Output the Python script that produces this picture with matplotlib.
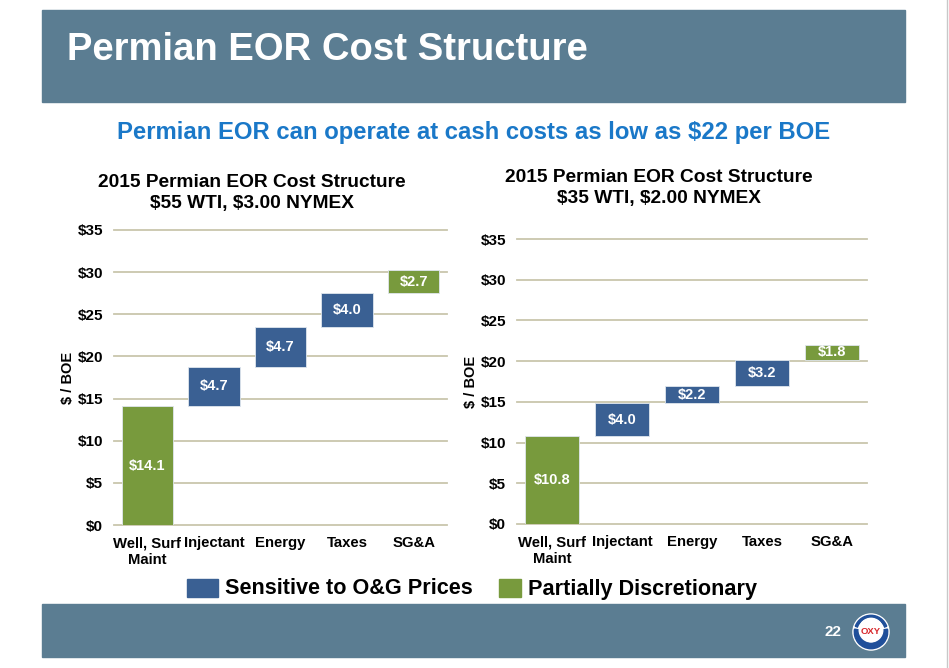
import matplotlib.pyplot as plt
from matplotlib.patches import Rectangle, Circle, Wedge

plt.rcParams['font.family'] = ['Liberation Sans', 'DejaVu Sans']
plt.rcParams['font.weight'] = 'bold'

categories = ['Well, Surf\nMaint', 'Injectant', 'Energy', 'Taxes', 'SG&A']
costs_55 = [14.1, 4.7, 4.7, 4.0, 2.7]
costs_35 = [10.8, 4.0, 2.2, 3.2, 1.8]
groups = ['green', 'blue', 'blue', 'blue', 'green']
yticks = [0, 5, 10, 15, 20, 25, 30, 35]

BLUE = '#3a6093'
GREEN = '#789a3d'
BAND = '#5b7d92'
GRID = '#c9c6ad'
colors = {'blue': BLUE, 'green': GREEN}

W, H = 949, 668
fig = plt.figure(figsize=(W / 100, H / 100), dpi=100)


def px(x0, y0, x1, y1):
    # pixel box (top-left origin) -> figure fraction rect
    return [x0 / W, 1 - y1 / H, (x1 - x0) / W, (y1 - y0) / H]


# header / footer bands
fig.patches.append(Rectangle((42 / W, 1 - 102 / H), 863 / W, 92 / H,
                             transform=fig.transFigure, color=BAND, zorder=0))
fig.patches.append(Rectangle((42 / W, 1 - 657 / H), 863 / W, 53 / H,
                             transform=fig.transFigure, color=BAND, zorder=0))
fig.text(67 / W, 1 - 50 / H, 'Permian EOR Cost Structure', color='white',
         fontsize=27.5, fontweight='bold', va='center', ha='left')
fig.text(474 / W, 1 - 133 / H,
         'Permian EOR can operate at cash costs as low as \\$22 per BOE',
         color='#1a78c8', fontsize=17.2, fontweight='bold', ha='center', va='center')


def waterfall(ax, values, title, tx, ty):
    bottoms = []
    running = 0
    for i, v in enumerate(values):
        b = 0 if i == 0 else running
        bottoms.append(b)
        running = b + v
    x = range(len(values))
    ax.bar(x, values, bottom=bottoms, width=0.77,
           color=[colors[g] for g in groups], edgecolor='#dfe6ee', linewidth=0.6, zorder=3)
    for i, (v, b) in enumerate(zip(values, bottoms)):
        ax.text(i, b + v / 2, f'\\${v:.1f}', color='white', fontsize=10.5,
                fontweight='bold', ha='center', va='center', zorder=4)
    ax.set_xlim(-0.5, len(values) - 0.5)
    ax.set_ylim(0, 35)
    ax.set_yticks(yticks)
    ax.set_yticklabels([f'\\${t}' for t in yticks])
    ax.set_xticks(list(x))
    ax.set_xticklabels(categories, linespacing=1.25)
    ax.tick_params(length=0, labelsize=11)
    ax.tick_params(axis='x', labelsize=10.7, pad=8)
    ax.tick_params(axis='y', pad=8)
    for lbl in ax.get_xticklabels() + ax.get_yticklabels():
        lbl.set_fontweight('bold')
    for s in ax.spines.values():
        s.set_visible(False)
    for t in yticks:
        ax.axhline(t, color=GRID, linewidth=1.3, zorder=1, clip_on=False)
    ax.set_ylabel('\\$ / BOE', fontsize=10.5, fontweight='bold', labelpad=2)
    fig.text(tx / W, 1 - ty / H, title, fontsize=13.8, fontweight='bold',
             linespacing=1.3, ha='center', va='center')


ax1 = fig.add_axes(px(114, 230, 447, 525))
waterfall(ax1, costs_55, '2015 Permian EOR Cost Structure\n\\$55 WTI, \\$3.00 NYMEX', 252, 193)
ax2 = fig.add_axes(px(517, 239, 867, 524))
waterfall(ax2, costs_35, '2015 Permian EOR Cost Structure\n\\$35 WTI, \\$2.00 NYMEX', 659, 188)

# legend
fig.patches.append(Rectangle((187 / W, 1 - 597 / H), 31 / W, 18 / H,
                             transform=fig.transFigure, color=BLUE))
fig.text(225 / W, 1 - 589 / H, 'Sensitive to O&G Prices', fontsize=15.6,
         fontweight='bold', va='center', ha='left')
fig.patches.append(Rectangle((499 / W, 1 - 597 / H), 22 / W, 18 / H,
                             transform=fig.transFigure, color=GREEN))
fig.text(528 / W, 1 - 589 / H, 'Partially Discretionary', fontsize=15.6,
         fontweight='bold', va='center', ha='left')

# page number and logo
fig.text(833 / W, 1 - 632 / H, '22', color='white', fontsize=11,
         fontweight='bold', ha='center', va='center')
lax = fig.add_axes(px(852, 613, 890, 651))
lax.set_zorder(5)
lax.set_xlim(-1, 1)
lax.set_ylim(-1, 1)
lax.set_aspect('equal')
lax.axis('off')
lax.add_patch(Circle((0, 0), 0.95, color='white'))
lax.add_patch(Wedge((0, 0), 0.88, 170, 370, width=0.3, color='#1f4f9a'))
lax.add_patch(Wedge((0, 0), 0.88, 20, 160, width=0.12, color='#1f4f9a'))
lax.add_patch(Circle((0, 0.1), 0.62, color='white'))
lax.text(0, 0.05, 'OXY', color='#d7262b', fontsize=6.8, fontweight='bold',
         ha='center', va='center')

# thin right border line
fig.add_artist(plt.Line2D([947 / W, 947 / W], [0, 1], color='#c8c8c8', linewidth=1))

fig.savefig('out.png', dpi=100, facecolor='white')
